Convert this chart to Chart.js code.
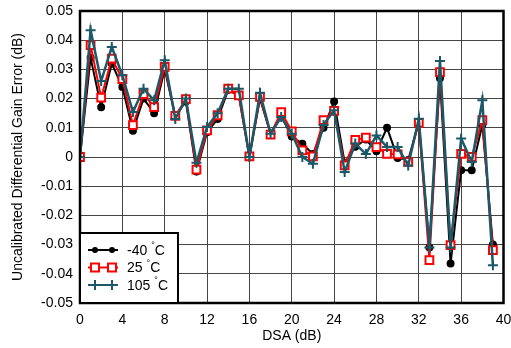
<!DOCTYPE html>
<html>
<head>
<meta charset="utf-8">
<script src="https://cdn.jsdelivr.net/npm/chart.js@4.4.1/dist/chart.umd.min.js"></script>
<style>
  html, body { margin: 0; padding: 0; background: #fff; }
  #wrap { width: 511px; height: 348px; }
</style>
</head>
<body>
<div id="wrap"><canvas id="gain"></canvas></div>
<script>
// DSA step (dB)
const dsa = [0,1,2,3,4,5,6,7,8,9,10,11,12,13,14,15,16,17,18,19,20,21,22,23,24,25,26,27,28,29,30,31,32,33,34,35,36,37,38,39];

// uncalibrated differential gain error (dB)
const err_m40 = [0, 0.034, 0.017, 0.032, 0.024, 0.009, 0.020, 0.015, 0.030, 0.014,
  0.019, -0.005, 0.0085, 0.013, 0.023, 0.021, 0, 0.020, 0.008, 0.014,
  0.007, 0.0045, 0.001, 0.010, 0.019, -0.002, 0.0035, 0.006, 0.002, 0.010,
  -0.0003, -0.001, 0.012, -0.031, 0.027, -0.0365, -0.0045, -0.0045, 0.011, -0.030];

const err_25 = [0, 0.0383, 0.0203, 0.0337, 0.0267, 0.0109, 0.0215, 0.0171, 0.0309, 0.0141,
  0.0198, -0.0043, 0.0091, 0.0143, 0.0234, 0.0211, 0.0002, 0.0206, 0.0077, 0.0154,
  0.0088, 0.0023, 0.0002, 0.0126, 0.0158, -0.0029, 0.0059, 0.0066, 0.0034, 0.0011,
  0.0009, -0.0017, 0.0117, -0.0353, 0.0291, -0.0302, 0.0011, 0.0, 0.0126, -0.0319];

const err_105 = [0, 0.0434, 0.026, 0.0377, 0.028, 0.0154, 0.0234, 0.0194, 0.0331, 0.013,
  0.020, -0.002, 0.0103, 0.015, 0.0234, 0.0234, 0.0, 0.022, 0.008, 0.0137,
  0.008, 0.0, -0.0023, 0.011, 0.016, -0.0051, 0.0046, 0.001, 0.0074, 0.0034,
  0.0034, -0.0029, 0.0131, -0.031, 0.0329, -0.031, 0.0063, -0.0017, 0.0194, -0.0371];

const seriesNames = ['-40', '25', '105'];

const FONT = '"Liberation Sans", Arial, sans-serif';
const TEAL = 'rgb(27, 88, 104)';

const pts = (ys) => dsa.map((x, i) => ({ x: x, y: ys[i] }));

// frame + legend box drawn inside the plot
const frameAndLegend = {
  id: 'frameAndLegend',
  afterDraw(chart) {
    const ctx = chart.ctx;
    const a = chart.chartArea;
    ctx.save();
    ctx.strokeStyle = '#000';
    ctx.lineWidth = 2.5;
    ctx.strokeRect(a.left, a.top, a.right - a.left, a.bottom - a.top);

    const bx = a.left, bw = 98, bh = 70, by = a.bottom - bh;
    ctx.fillStyle = '#fff';
    ctx.fillRect(bx, by, bw, bh);
    ctx.lineWidth = 2;
    ctx.strokeRect(bx, by, bw, bh);

    const styles = [
      { color: '#000', mark: 'circle' },
      { color: 'rgb(255, 0, 0)', mark: 'square' },
      { color: TEAL, mark: 'plus' }
    ];
    styles.forEach((s, i) => {
      const y = by + 17 + i * 17.5;
      ctx.strokeStyle = s.color;
      ctx.fillStyle = s.color;
      ctx.lineWidth = 2;
      ctx.beginPath();
      ctx.moveTo(bx + 8, y);
      ctx.lineTo(bx + 38, y);
      ctx.stroke();
      [bx + 15, bx + 32].forEach(mx => {
        ctx.beginPath();
        if (s.mark === 'circle') {
          ctx.arc(mx, y, 3, 0, Math.PI * 2);
          ctx.fill();
        } else if (s.mark === 'square') {
          ctx.fillStyle = '#fff';
          ctx.rect(mx - 4, y - 4, 8, 8);
          ctx.fill();
          ctx.stroke();
        } else {
          ctx.moveTo(mx, y - 5);
          ctx.lineTo(mx, y + 5);
          ctx.stroke();
        }
      });
      ctx.fillStyle = '#000';
      ctx.textBaseline = 'middle';
      ctx.textAlign = 'left';
      ctx.font = '14px ' + FONT;
      const t = seriesNames[i];
      ctx.fillText(t, bx + 47, y + 1);
      let tx = bx + 47 + ctx.measureText(t).width + 4;
      ctx.font = '9px ' + FONT;
      ctx.fillText('\u00b0', tx, y - 4);
      tx += ctx.measureText('\u00b0').width;
      ctx.font = '14px ' + FONT;
      ctx.fillText('C', tx, y + 1);
    });
    ctx.restore();
  }
};

const config_gain = {
  type: 'line',
  data: {
    datasets: [
      {
        label: '-40 °C',
        data: pts(err_m40),
        borderColor: '#000',
        backgroundColor: '#000',
        borderWidth: 2,
        pointStyle: 'circle',
        pointRadius: 3,
        order: 3
      },
      {
        label: '25 °C',
        data: pts(err_25),
        borderColor: 'rgb(255, 0, 0)',
        backgroundColor: '#fff',
        borderWidth: 2,
        pointStyle: 'rect',
        pointRadius: 5.5,
        pointBorderWidth: 2,
        order: 2
      },
      {
        label: '105 °C',
        data: pts(err_105),
        borderColor: TEAL,
        backgroundColor: TEAL,
        borderWidth: 2.5,
        pointStyle: 'cross',
        pointRadius: 5,
        pointBorderWidth: 2,
        order: 1
      }
    ]
  },
  options: {
    responsive: true,
    maintainAspectRatio: false,
    animation: false,
    layout: { padding: { top: 11, right: 4, left: 0, bottom: 0 } },
    plugins: {
      legend: { display: false },
      tooltip: { enabled: false }
    },
    scales: {
      x: {
        type: 'linear',
        min: 0,
        max: 40,
        afterFit(scale) {
          scale.height = 45;
          scale.paddingLeft = 0;
          scale.paddingRight = 0;
        },
        ticks: {
          stepSize: 4,
          padding: 9,
          color: '#000',
          font: { family: FONT, size: 14 }
        },
        grid: { color: '#444', lineWidth: 1, drawTicks: false },
        border: { display: false },
        title: {
          display: true,
          text: 'DSA (dB)',
          color: '#000',
          font: { family: FONT, size: 14 },
          padding: { top: 0, bottom: 3 }
        }
      },
      y: {
        min: -0.05,
        max: 0.05,
        afterFit(scale) {
          scale.width = 80;
          scale.paddingTop = 0;
          scale.paddingBottom = 0;
        },
        ticks: {
          stepSize: 0.01,
          padding: 7,
          color: '#000',
          font: { family: FONT, size: 14 },
          callback: (v) => Math.abs(v) < 1e-9 ? '0' : v.toFixed(2)
        },
        grid: { color: '#444', lineWidth: 1, drawTicks: false },
        border: { display: false },
        title: {
          display: true,
          text: 'Uncalibrated Differential Gain Error (dB)',
          color: '#000',
          font: { family: FONT, size: 14 },
          padding: { top: 10, bottom: 0 }
        }
      }
    }
  },
  plugins: [frameAndLegend]
};

const gain = new Chart(
  document.getElementById('gain'),
  config_gain
);
</script>
</body>
</html>
